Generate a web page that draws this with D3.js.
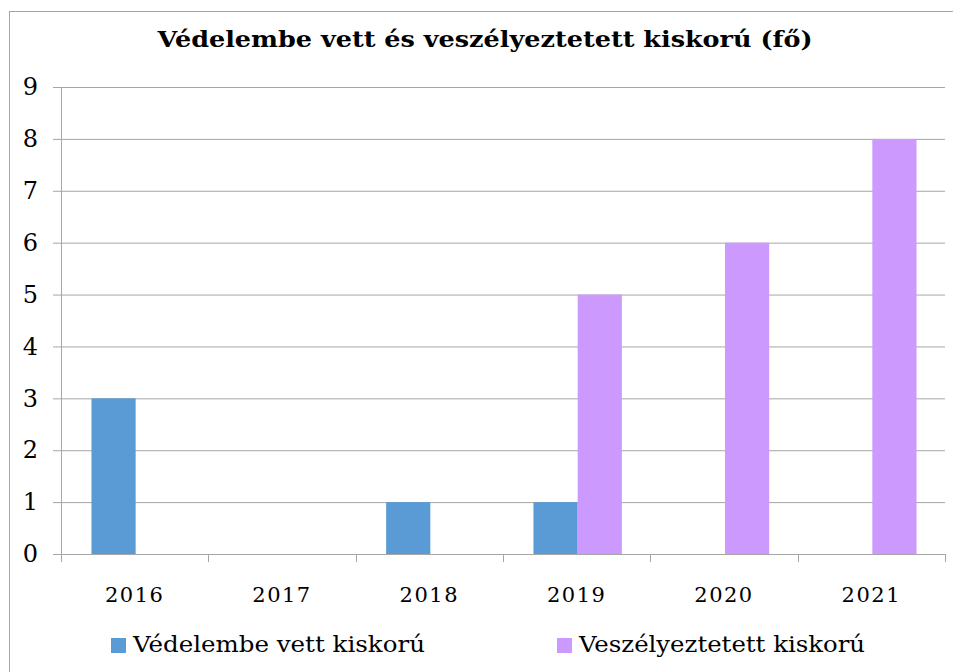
<!DOCTYPE html>
<html>
<head>
<meta charset="utf-8">
<script src="https://cdn.jsdelivr.net/npm/d3@7"></script>
<style>
  body { margin: 0; background: #fff; }
  svg { display: block; font-family: "DejaVu Serif", Georgia, serif; }
</style>
</head>
<body>
<svg></svg>
<script>
const years = ["2016", "2017", "2018", "2019", "2020", "2021"];
const seriesNames = ["Védelembe vett kiskorú", "Veszélyeztetett kiskorú"];
const vedelembe = [3, 0, 1, 1, 0, 0];
const veszelyeztetett = [0, 0, 0, 5, 6, 8];
const yTicks = [0, 1, 2, 3, 4, 5, 6, 7, 8, 9];
const title = "Védelembe vett és veszélyeztetett kiskorú (fő)";

const width = 953,
      height = 672,
      plot = {left: 61, right: 945, top: 87, bottom: 554},
      colors = ["#5b9bd5", "#cc99ff"],
      gridColor = "#a6a6a6";

const svg = d3.select("svg")
              .attr("width", width)
              .attr("height", height);

// Outer chart border
svg.append("rect")
   .attr("x", 9.5)
   .attr("y", 11.5)
   .attr("width", 980)
   .attr("height", 700)
   .attr("fill", "#fff")
   .attr("stroke", gridColor);

// Scales
const x = d3.scaleBand()
            .domain(years)
            .range([plot.left, plot.right])
            .paddingInner(0.4)
            .paddingOuter(0.2);

const x1 = d3.scaleBand()
             .domain(seriesNames)
             .range([0, x.bandwidth()]);

const y = d3.scaleLinear()
            .domain([0, 9])
            .range([plot.bottom, plot.top]);

// Gridlines with left tick stubs
svg.append("g")
   .attr("transform", "translate(" + plot.left + ",0)")
   .call(d3.axisLeft(y)
           .tickValues(yTicks)
           .tickSize(-(plot.right - plot.left))
           .tickSizeOuter(0)
           .tickPadding(23)
           .tickFormat(d3.format("d")))
   .call(g => g.select(".domain").remove())
   .call(g => g.selectAll(".tick line")
               .attr("x1", -8)
               .attr("stroke", gridColor))
   .call(g => g.selectAll(".tick text")
               .attr("fill", "#000")
               .attr("font-size", 24)
               .attr("font-family", "DejaVu Serif"));

// Vertical axis line
svg.append("line")
   .attr("x1", plot.left + 0.5)
   .attr("x2", plot.left + 0.5)
   .attr("y1", plot.top)
   .attr("y2", plot.bottom + 8)
   .attr("stroke", gridColor);

// Category boundary ticks
svg.append("g")
   .selectAll("line")
   .data(d3.range(years.length + 1))
   .enter().append("line")
   .attr("x1", (i) => Math.round(plot.left + i * x.step()) + 0.5)
   .attr("x2", (i) => Math.round(plot.left + i * x.step()) + 0.5)
   .attr("y1", plot.bottom)
   .attr("y2", plot.bottom + 8)
   .attr("stroke", gridColor);

// Bars (group nudged slightly right like the original)
const rows = years.map((yr, i) => ({year: yr, values: [vedelembe[i], veszelyeztetett[i]]}));

svg.append("g")
   .selectAll("g")
   .data(rows)
   .enter().append("g")
   .attr("transform", (d) => "translate(" + (x(d.year) + 1) + ",0)")
   .selectAll("rect")
   .data((d) => d.values.map((v, k) => ({name: seriesNames[k], value: v, k: k})))
   .enter().append("rect")
   .filter((d) => d.value > 0)
   .attr("x", (d) => x1(d.name))
   .attr("y", (d) => y(d.value))
   .attr("width", x1.bandwidth())
   .attr("height", (d) => y(0) - y(d.value))
   .attr("fill", (d) => colors[d.k]);

// Category labels
svg.append("g")
   .selectAll("text")
   .data(years)
   .enter().append("text")
   .attr("x", (d) => x(d) + x.bandwidth() / 2)
   .attr("y", 602)
   .attr("text-anchor", "middle")
   .attr("font-size", 21)
   .attr("letter-spacing", 1.5)
   .text((d) => d);

// Legend
const legendX = [111, 557],
      legendWidths = [292, 286];

const legend = svg.append("g")
                  .selectAll("g")
                  .data(seriesNames)
                  .enter().append("g")
                  .attr("transform", (d, i) => "translate(" + legendX[i] + ",638)");

legend.append("rect")
      .attr("width", 15)
      .attr("height", 15)
      .attr("fill", (d, i) => colors[i]);

legend.append("text")
      .attr("x", 22)
      .attr("y", 14)
      .attr("font-size", 23)
      .attr("textLength", (d, i) => legendWidths[i])
      .attr("lengthAdjust", "spacingAndGlyphs")
      .text((d) => d);

// Chart title
svg.append("text")
   .attr("x", 485)
   .attr("y", 47)
   .attr("text-anchor", "middle")
   .attr("font-size", 23)
   .attr("font-weight", "bold")
   .attr("textLength", 655)
   .attr("lengthAdjust", "spacingAndGlyphs")
   .text(title);
</script>
</body>
</html>
